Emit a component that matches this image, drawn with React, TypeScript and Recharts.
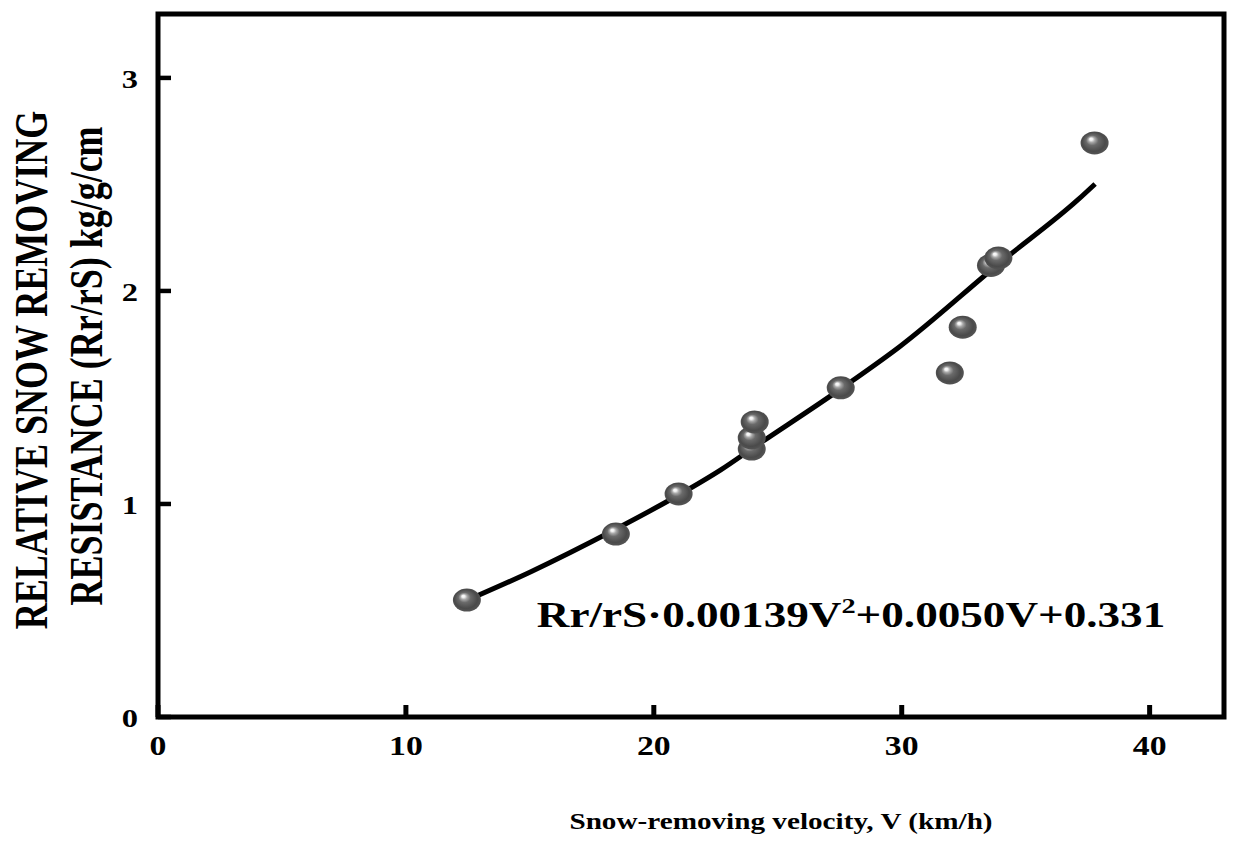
import React from "react";
import {
  ComposedChart,
  XAxis,
  YAxis,
  Scatter,
  Line,
  ReferenceArea,
  ReferenceDot,
} from "recharts";

// Measured points (snow-removing velocity V, relative resistance Rr/rS)
const VELOCITY = [12.46, 18.47, 21.0, 23.95, 23.95, 24.07, 27.54, 31.94, 32.46, 33.6, 33.9, 37.78];
const RESISTANCE = [0.549, 0.859, 1.047, 1.258, 1.31, 1.385, 1.545, 1.615, 1.83, 2.12, 2.155, 2.695];

// Fitted curve
const FIT_V = [12.5, 15, 18.4, 21, 22.7, 24, 27.6, 29.9, 34, 37.1, 37.8];
const FIT_R = [0.55, 0.68, 0.878, 1.042, 1.16, 1.263, 1.545, 1.737, 2.136, 2.427, 2.502];

const X_TICKS = [0, 10, 20, 30, 40];
const Y_TICKS = [0, 1, 2, 3];

const X_TITLE = "Snow-removing velocity, V (km/h)";
const Y_TITLE_1 = "RELATIVE SNOW REMOVING";
const Y_TITLE_2 = "RESISTANCE (Rr/rS) kg/g/cm";

const points = VELOCITY.map((v, i) => ({ x: v, y: RESISTANCE[i] }));
const fit = FIT_V.map((v, i) => ({ x: v, y: FIT_R[i] }));

const FONT = '"Liberation Serif", "Times New Roman", Times, serif';
const SX = 1.29;

const XTick = (props: any) => {
  const { x, y, payload } = props;
  return (
    <g>
      <line x1={x} y1={y} x2={x} y2={y - 12} stroke="#000" strokeWidth={5} />
      <text
        transform={`translate(${x},${y + 38}) scale(1.25,1)`}
        textAnchor="middle"
        fontSize={27}
        fontWeight="bold"
        fontFamily={FONT}
        fill="#000"
      >
        {payload.value}
      </text>
    </g>
  );
};

const YTick = (props: any) => {
  const { x, y, payload } = props;
  return (
    <g>
      <line x1={x} y1={y} x2={x + 13} y2={y} stroke="#000" strokeWidth={4.5} />
      <text
        transform={`translate(${x - 20},${y + 10}) scale(1.25,1)`}
        textAnchor="end"
        fontSize={26}
        fontWeight="bold"
        fontFamily={FONT}
        fill="#000"
      >
        {payload.value}
      </text>
    </g>
  );
};

const YTitle = () => (
  <g>
    <text
      transform={`translate(47,370) scale(${SX},1) rotate(-90)`}
      textAnchor="middle"
      fontSize={36}
      fontWeight="bold"
      fontFamily={FONT}
      fill="#000"
    >
      {Y_TITLE_1}
    </text>
    <text
      transform={`translate(102,366) scale(${SX},1) rotate(-90)`}
      textAnchor="middle"
      fontSize={36}
      fontWeight="bold"
      fontFamily={FONT}
      fill="#000"
    >
      {Y_TITLE_2}
    </text>
  </g>
);

const XTitle = () => (
  <text
    transform={`translate(781,829) scale(1.27,1)`}
    textAnchor="middle"
    fontSize={23}
    fontWeight="bold"
    fontFamily={FONT}
    fill="#000"
  >
    {X_TITLE}
  </text>
);

const Equation = (props: any) => {
  const vb = props.viewBox || {};
  const x = typeof vb.x === "number" ? vb.x : 537;
  const y = typeof vb.y === "number" ? vb.y : 627;
  return (
    <text
      transform={`translate(${x},${y}) scale(${SX},1)`}
      textAnchor="start"
      fontSize={35}
      fontWeight="bold"
      fontFamily={FONT}
      fill="#000"
    >
      <tspan>Rr/rS·0.00139V</tspan>
      <tspan fontSize={22} dy={-14}>2</tspan>
      <tspan dy={14}>+0.0050V+0.331</tspan>
    </text>
  );
};

const Ball = (props: any) => {
  const { cx, cy } = props;
  if (typeof cx !== "number" || typeof cy !== "number") return null;
  return <ellipse cx={cx} cy={cy} rx={14} ry={11.5} fill="url(#ballGrad)" />;
};

export default function App() {
  return (
    <div style={{ width: 1242, height: 845, margin: "-8px 0 0 -8px" }}>
      <ComposedChart
        width={1242}
        height={845}
        margin={{ top: 14, right: 18, bottom: 0, left: 0 }}
      >
        <defs>
          <radialGradient id="ballGrad" cx="50%" cy="50%" r="55%" fx="36%" fy="32%">
            <stop offset="0%" stopColor="#ffffff" />
            <stop offset="10%" stopColor="#f0f0f0" />
            <stop offset="22%" stopColor="#a8a8a8" />
            <stop offset="40%" stopColor="#6a6a6a" />
            <stop offset="75%" stopColor="#4a4a4a" />
            <stop offset="100%" stopColor="#585858" />
          </radialGradient>
        </defs>
        <XAxis
          type="number"
          dataKey="x"
          domain={[0, 43]}
          ticks={X_TICKS}
          interval={0}
          allowDataOverflow
          axisLine={false}
          tickLine={false}
          tickSize={0}
          tickMargin={0}
          height={128}
          tick={<XTick />}
          label={<XTitle />}
        />
        <YAxis
          type="number"
          dataKey="y"
          domain={[0, 3.3]}
          ticks={Y_TICKS}
          interval={0}
          allowDataOverflow
          axisLine={false}
          tickLine={false}
          tickSize={0}
          tickMargin={0}
          width={158}
          tick={<YTick />}
          label={<YTitle />}
        />
        <ReferenceArea
          x1={0}
          x2={43}
          y1={0}
          y2={3.3}
          fill="none"
          fillOpacity={0}
          stroke="#000"
          strokeWidth={5}
          ifOverflow="visible"
        />
        <Scatter
          data={points}
          dataKey="y"
          shape={<Ball />}
          isAnimationActive={false}
        />
        <Line
          data={fit}
          dataKey="y"
          type="monotone"
          stroke="#000"
          strokeWidth={5}
          dot={false}
          activeDot={false}
          isAnimationActive={false}
        />
        <ReferenceDot
          x={15.28}
          y={0.4225}
          r={0}
          fill="none"
          stroke="none"
          ifOverflow="visible"
          label={<Equation />}
        />
      </ComposedChart>
    </div>
  );
}
